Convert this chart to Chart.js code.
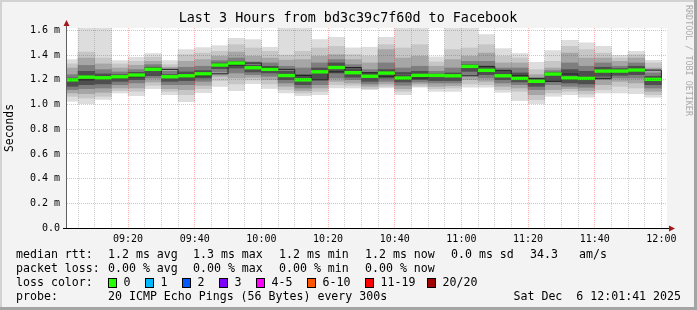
<!DOCTYPE html>
<html>
<head>
<meta charset="utf-8">
<script src="https://cdn.jsdelivr.net/npm/chart.js@4/dist/chart.umd.min.js"></script>
<style>
  html, body { margin: 0; padding: 0; background: #f3f3f3; }
  canvas { display: block; }
</style>
</head>
<body>
<canvas id="smokeChart" width="697" height="310"></canvas>
<script>
// end of each 5 minute sample
let sampleTimes = ['09:05', '09:10', '09:15', '09:20', '09:25', '09:30', '09:35', '09:40', '09:45',
    '09:50', '09:55', '10:00', '10:05', '10:10', '10:15', '10:20', '10:25', '10:30', '10:35', '10:40',
    '10:45', '10:50', '10:55', '11:00', '11:05', '11:10', '11:15', '11:20', '11:25', '11:30', '11:35',
    '11:40', '11:45', '11:50', '11:55', '12:00'];

// median rtt in ms
let medianRtt = [1.200, 1.222, 1.217, 1.225, 1.239, 1.285, 1.225, 1.233, 1.249, 1.320, 1.336, 1.298,
    1.285, 1.235, 1.200, 1.265, 1.300, 1.258, 1.229, 1.255, 1.215, 1.236, 1.236, 1.233,
    1.309, 1.277, 1.233, 1.212, 1.188, 1.247, 1.216, 1.212, 1.271, 1.271, 1.279, 1.204];

// sorted pings (ms), pairs from the outside in
let ping1 = [1.026, 1.007, 1.042, 1.094, 1.072, 1.129, 1.080, 1.023, 1.096, 1.147, 1.113, 1.169,
    1.130, 1.094, 1.072, 1.080, 1.134, 1.134, 1.121, 1.134, 1.080, 1.140, 1.107, 1.107,
    1.140, 1.140, 1.099, 1.032, 1.007, 1.067, 1.080, 1.059, 1.094, 1.094, 1.088, 1.059];
let ping20 = [1.364, 1.700, 1.700, 1.356, 1.383, 1.413, 1.356, 1.445, 1.461, 1.477, 1.537, 1.526,
    1.464, 1.700, 1.700, 1.526, 1.545, 1.459, 1.464, 1.545, 1.700, 1.700, 1.386, 1.700,
    1.700, 1.566, 1.453, 1.413, 1.342, 1.437, 1.521, 1.499, 1.472, 1.399, 1.431, 1.358];
let ping3 = [1.067, 1.053, 1.067, 1.113, 1.107, 1.156, 1.107, 1.080, 1.129, 1.194, 1.167, 1.199,
    1.167, 1.121, 1.094, 1.107, 1.161, 1.156, 1.129, 1.148, 1.107, 1.148, 1.129, 1.134,
    1.167, 1.161, 1.121, 1.107, 1.040, 1.094, 1.107, 1.086, 1.121, 1.148, 1.134, 1.080];
let ping18 = [1.329, 1.425, 1.377, 1.329, 1.350, 1.383, 1.323, 1.404, 1.417, 1.431, 1.485, 1.458,
    1.431, 1.400, 1.431, 1.458, 1.471, 1.404, 1.391, 1.485, 1.458, 1.485, 1.345, 1.445,
    1.458, 1.485, 1.391, 1.377, 1.283, 1.350, 1.471, 1.445, 1.417, 1.377, 1.404, 1.337];
let ping5 = [1.094, 1.088, 1.099, 1.134, 1.134, 1.183, 1.129, 1.121, 1.156, 1.229, 1.215, 1.221,
    1.202, 1.148, 1.113, 1.134, 1.188, 1.175, 1.148, 1.167, 1.129, 1.167, 1.148, 1.153,
    1.202, 1.188, 1.148, 1.134, 1.080, 1.121, 1.129, 1.113, 1.161, 1.188, 1.175, 1.107];
let ping16 = [1.296, 1.377, 1.329, 1.296, 1.318, 1.350, 1.302, 1.350, 1.364, 1.391, 1.425, 1.391,
    1.377, 1.360, 1.364, 1.391, 1.404, 1.364, 1.337, 1.445, 1.377, 1.391, 1.310, 1.364,
    1.391, 1.417, 1.337, 1.337, 1.242, 1.296, 1.417, 1.377, 1.377, 1.350, 1.377, 1.296];
let ping7 = [1.121, 1.129, 1.134, 1.161, 1.175, 1.215, 1.161, 1.161, 1.188, 1.264, 1.256, 1.242,
    1.229, 1.175, 1.134, 1.161, 1.215, 1.202, 1.167, 1.188, 1.156, 1.183, 1.175, 1.175,
    1.242, 1.215, 1.175, 1.161, 1.121, 1.161, 1.148, 1.140, 1.202, 1.215, 1.215, 1.134];
let ping14 = [1.242, 1.317, 1.283, 1.264, 1.283, 1.323, 1.269, 1.302, 1.310, 1.356, 1.377, 1.345,
    1.337, 1.310, 1.296, 1.337, 1.364, 1.323, 1.283, 1.337, 1.296, 1.310, 1.269, 1.296,
    1.350, 1.350, 1.296, 1.296, 1.215, 1.275, 1.337, 1.310, 1.337, 1.310, 1.337, 1.256];
let ping9 = [1.148, 1.161, 1.167, 1.188, 1.202, 1.248, 1.188, 1.194, 1.215, 1.291, 1.296, 1.264,
    1.256, 1.202, 1.161, 1.202, 1.256, 1.221, 1.188, 1.215, 1.183, 1.202, 1.194, 1.194,
    1.269, 1.242, 1.202, 1.183, 1.148, 1.188, 1.175, 1.167, 1.229, 1.237, 1.242, 1.161];
let ping12 = [1.215, 1.269, 1.248, 1.242, 1.261, 1.302, 1.242, 1.264, 1.275, 1.337, 1.350, 1.318,
    1.310, 1.269, 1.242, 1.296, 1.337, 1.291, 1.256, 1.283, 1.242, 1.269, 1.248, 1.256,
    1.323, 1.310, 1.269, 1.256, 1.202, 1.260, 1.283, 1.269, 1.302, 1.291, 1.310, 1.229];

let yGridValues = [0, 0.1, 0.2, 0.3, 0.4, 0.5, 0.6, 0.7, 0.8, 0.9, 1.0, 1.1, 1.2, 1.3, 1.4, 1.5, 1.6];
let yLabelValues = [0, 0.2, 0.4, 0.6, 0.8, 1.0, 1.2, 1.4, 1.6];
let yTickLabels = ['0.0', '0.2 m', '0.4 m', '0.6 m', '0.8 m', '1.0 m', '1.2 m', '1.4 m', '1.6 m'];
let xTickLabels = ['09:20', '09:40', '10:00', '10:20', '10:40', '11:00', '11:20', '11:40', '12:00'];

let rttSummary = ['1.2 ms avg', '1.3 ms max', '1.2 ms min', '1.2 ms now', '0.0 ms sd', '34.3', 'am/s'];
let lossSummary = ['0.00 % avg', '0.00 % max', '0.00 % min', '0.00 % now'];
let lossLabels = ['0', '1', '2', '3', '4-5', '6-10', '11-19', '20/20'];
let lossColors = ['#26ff00', '#00b8ff', '#0059ff', '#7e00ff', '#ff00ff', '#ff5500', '#ff0000', '#a00000'];

const graphTitle = 'Last 3 Hours from bd3c39c7f60d to Facebook';
const probeText = '20 ICMP Echo Pings (56 Bytes) every 300s';
const graphEnd = '12:01:41';
const dateText = 'Sat Dec  6 12:01:41 2025';

const MONO = '"DejaVu Sans Mono", "Liberation Mono", monospace';
const MEDIAN_HALF = 0.011;
const MAJOR_GRID = 'rgba(255,0,0,0.3)';
const MINOR_GRID = 'rgba(110,110,110,0.32)';

function toMinutes(t) {
    const p = t.split(':').map(Number);
    return p[0] * 60 + p[1] + (p[2] || 0) / 60;
}
function fmtMinutes(v) {
    const h = Math.floor(v / 60), m = Math.round(v - h * 60);
    return String(h).padStart(2, '0') + ':' + String(m).padStart(2, '0');
}
function findLabel(values, v) {
    return values.findIndex(x => Math.abs(x - v) < 1e-6);
}

const viewEnd = toMinutes(graphEnd);
const viewStart = viewEnd - 180;

function band(lo, hi) {
    return sampleTimes.map((t, i) => ({x: toMinutes(t) - 2.5, y: [lo[i], hi[i]]}));
}

const smokeLevels = [
    {lo: ping9, hi: ping12, color: '#4e4e4e'},
    {lo: ping7, hi: ping14, color: '#7e7e7e'},
    {lo: ping5, hi: ping16, color: '#a6a6a6'},
    {lo: ping3, hi: ping18, color: '#c6c6c6'},
    {lo: ping1, hi: ping20, color: '#dddddd'}
];

let datasets = [{
    type: 'bar',
    label: 'median',
    data: sampleTimes.map((t, i) => ({x: toMinutes(t) - 2.5, y: [medianRtt[i] - MEDIAN_HALF, medianRtt[i] + MEDIAN_HALF]})),
    backgroundColor: lossColors[0],
    grouped: false, barPercentage: 1, categoryPercentage: 1, borderWidth: 0
}, {
    type: 'line',
    label: 'median line',
    data: sampleTimes.map((t, i) => ({x: toMinutes(t), y: medianRtt[i]})),
    stepped: 'before',
    borderColor: '#202020',
    borderWidth: 1,
    pointRadius: 0
}];
smokeLevels.forEach(l => {
    datasets.push({
        type: 'bar',
        data: band(l.lo, l.hi),
        backgroundColor: l.color,
        grouped: false, barPercentage: 1, categoryPercentage: 1, borderWidth: 0
    });
});

const rrdFrame = {
    id: 'rrdFrame',
    beforeDraw(chart) {
        const ctx = chart.ctx, a = chart.chartArea;
        const W = chart.width, H = chart.height;
        ctx.save();
        ctx.fillStyle = '#f3f3f3';
        ctx.fillRect(0, 0, W, H);
        ctx.fillStyle = '#d2d2d2';
        ctx.fillRect(0, 0, W, 2);
        ctx.fillRect(0, 0, 2, H);
        ctx.fillStyle = '#a4a4a4';
        ctx.fillRect(0, H - 3, W, 3);
        ctx.fillRect(W - 3, 0, 3, H);
        ctx.fillStyle = '#ffffff';
        ctx.fillRect(a.left, a.top, a.right - a.left, a.bottom - a.top);
        ctx.restore();
    },
    afterDraw(chart) {
        const ctx = chart.ctx, a = chart.chartArea;
        ctx.save();
        // axes
        ctx.lineWidth = 1;
        ctx.strokeStyle = '#606060';
        ctx.beginPath();
        ctx.moveTo(a.left - 0.5, a.bottom + 1);
        ctx.lineTo(a.left - 0.5, a.top - 4);
        ctx.stroke();
        ctx.strokeStyle = '#000000';
        ctx.beginPath();
        ctx.moveTo(a.left - 4, a.bottom + 0.5);
        ctx.lineTo(a.right + 4, a.bottom + 0.5);
        ctx.stroke();
        ctx.fillStyle = '#a01818';
        ctx.beginPath();
        ctx.moveTo(a.left - 0.5, a.top - 8);
        ctx.lineTo(a.left - 3.5, a.top - 2);
        ctx.lineTo(a.left + 2.5, a.top - 2);
        ctx.closePath();
        ctx.fill();
        ctx.beginPath();
        ctx.moveTo(a.right + 8, a.bottom + 0.5);
        ctx.lineTo(a.right + 2, a.bottom - 2.5);
        ctx.lineTo(a.right + 2, a.bottom + 3.5);
        ctx.closePath();
        ctx.fill();

        // title
        ctx.fillStyle = '#000';
        ctx.textBaseline = 'middle';
        ctx.textAlign = 'center';
        ctx.font = '13.4px ' + MONO;
        ctx.fillText(graphTitle, 348, 19);

        // vertical labels
        ctx.save();
        ctx.translate(10, 128);
        ctx.rotate(-Math.PI / 2);
        ctx.font = '11.4px ' + MONO;
        ctx.fillText('Seconds', 0, 0);
        ctx.restore();
        ctx.save();
        ctx.translate(688, 5);
        ctx.rotate(Math.PI / 2);
        ctx.textAlign = 'left';
        ctx.fillStyle = '#aaaaaa';
        ctx.font = '8.4px ' + MONO;
        ctx.fillText('RRDTOOL / TOBI OETIKER', 0, 0);
        ctx.restore();

        // legend
        ctx.textAlign = 'left';
        ctx.font = '11.6px ' + MONO;
        ctx.fillStyle = '#000';
        const cols = [108, 193, 279, 365, 451, 530, 579];
        ctx.fillText('median rtt:', 16, 254.5);
        rttSummary.forEach((s, i) => ctx.fillText(s, cols[i], 254.5));
        ctx.fillText('packet loss:', 16, 268.5);
        lossSummary.forEach((s, i) => ctx.fillText(s, cols[i], 268.5));
        ctx.fillText('loss color:', 16, 282.5);
        const boxX = [108, 145, 182, 219, 256, 307, 365, 427];
        lossLabels.forEach((s, i) => {
            ctx.fillStyle = lossColors[i];
            ctx.fillRect(boxX[i], 278, 8, 9);
            ctx.strokeStyle = '#000';
            ctx.strokeRect(boxX[i] + 0.5, 278.5, 8, 9);
            ctx.fillStyle = '#000';
            ctx.fillText(s, boxX[i] + 15.5, 282.5);
        });
        ctx.fillText('probe:', 16, 296.5);
        ctx.fillText(probeText, 108, 296.5);
        ctx.textAlign = 'right';
        ctx.fillText(dateText, 681, 296.5);
        ctx.restore();
    }
};

const chartElement = document.getElementById('smokeChart').getContext('2d');

const smokeChart = new Chart(chartElement, {
    type: 'bar',
    data: {datasets: datasets},
    options: {
        responsive: false,
        animation: false,
        events: [],
        layout: {padding: {top: 28, right: 30, bottom: 62, left: 0}},
        plugins: {legend: {display: false}, tooltip: {enabled: false}, title: {display: false}},
        scales: {
            x: {
                type: 'linear',
                min: viewStart,
                max: viewEnd,
                offset: false,
                afterBuildTicks: s => { s.ticks = sampleTimes.map(t => ({value: toMinutes(t)})); },
                afterFit: s => { s.height = 20; },
                grid: {
                    offset: false, drawTicks: false, z: 1, lineWidth: 1,
                    color: c => xTickLabels.includes(fmtMinutes(c.tick.value)) ? MAJOR_GRID : MINOR_GRID
                },
                border: {display: false, dash: [1, 1]},
                ticks: {
                    autoSkip: false, maxRotation: 0, minRotation: 0, padding: 5,
                    color: '#000', font: {family: MONO, size: 10},
                    callback: v => xTickLabels.includes(fmtMinutes(v)) ? fmtMinutes(v) : ''
                }
            },
            y: {
                type: 'linear',
                min: 0,
                max: 1.62,
                afterBuildTicks: s => { s.ticks = yGridValues.map(v => ({value: v})); },
                afterFit: s => { s.width = 67; },
                grid: {
                    drawTicks: false, z: 1, lineWidth: 1,
                    color: c => findLabel(yLabelValues, c.tick.value) >= 0 ? MAJOR_GRID : MINOR_GRID
                },
                border: {display: false, dash: [1, 1]},
                ticks: {
                    padding: 7, color: '#000', font: {family: MONO, size: 10},
                    callback: v => {
                        const i = findLabel(yLabelValues, v);
                        return i >= 0 ? yTickLabels[i] : '';
                    }
                }
            }
        }
    },
    plugins: [rrdFrame]
});
</script>
</body>
</html>
